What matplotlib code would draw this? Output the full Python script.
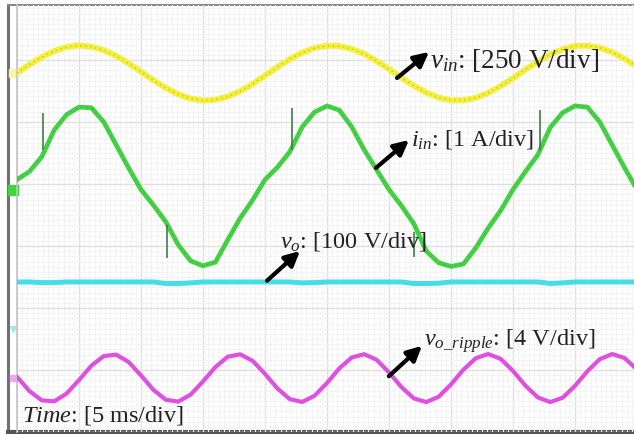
import matplotlib.pyplot as plt
import numpy as np
from matplotlib.ticker import MultipleLocator

plt.rcParams['font.family'] = 'Liberation Serif'
plt.rcParams['mathtext.fontset'] = 'custom'
plt.rcParams['mathtext.rm'] = 'Liberation Serif'
plt.rcParams['mathtext.it'] = 'Liberation Serif:italic'

# scope channels, one sample per ms
t_ms = np.arange(0, 51)

v_in = [0, 34, 64, 89, 105, 111, 106, 92, 69, 39,
        5, -29, -60, -86, -103, -111, -108, -95, -73, -44,
        -10, 24, 56, 82, 101, 110, 109, 97, 77, 48,
        16, -19, -51, -79, -99, -110, -110, -100, -80, -53,
        -21, 14, 46, 75, 96, 109, 110, 102, 84, 57, 26]

i_in = [0.10, 0.23, 0.47, 0.90, 1.15, 1.27, 1.26, 1.03, 0.66, 0.29,
        -0.06, -0.31, -0.58, -0.95, -1.21, -1.29, -1.23, -0.87, -0.52, -0.23,
        0.10, 0.30, 0.55, 0.95, 1.19, 1.29, 1.22, 0.95, 0.58, 0.26,
        -0.06, -0.32, -0.61, -1.05, -1.24, -1.30, -1.26, -1.00, -0.68, -0.40,
        -0.06, 0.23, 0.50, 0.94, 1.18, 1.29, 1.27, 1.03, 0.66, 0.29, -0.06]

v_o = [76, 76, 75, 75, 76, 76, 76, 76, 76, 76,
       76, 76, 73.5, 73.5, 74.5, 76, 76, 76, 76, 76,
       76, 76, 76, 74.5, 75, 76, 76, 76, 76, 76,
       76, 76, 73.5, 73.5, 74, 76, 76, 76, 76, 76,
       76, 76, 76, 73.5, 74.5, 76, 76, 76, 76, 76, 76]

v_ripple = [0.08, -0.84, -1.44, -1.50, -1.00, -0.13, 0.80, 1.42, 1.51, 1.04,
            0.17, -0.76, -1.40, -1.52, -1.07, -0.22, 0.71, 1.38, 1.53, 1.11,
            0.27, -0.67, -1.36, -1.54, -1.14, -0.32, 0.63, 1.33, 1.54, 1.18,
            0.36, -0.58, -1.31, -1.55, -1.21, -0.41, 0.54, 1.28, 1.55, 1.24,
            0.46, -0.49, -1.25, -1.55, -1.27, -0.50, 0.44, 1.22, 1.55, 1.29, 0.55]

# switching spikes on the input current
spike_t = [2.1, 12.1, 22.2, 32.0, 42.2]
spike_lo = [0.58, -0.63, 0.58, -0.75, 0.58]
spike_hi = [1.18, -1.16, 1.26, -1.15, 1.23]

# volts (amps) per division and ground level of each channel, in divisions
scale = {'vin': 250, 'iin': 1, 'vo': 100, 'rip': 4}
ground = {'vin': 5.79, 'iin': 3.97, 'vo': 1.66, 'rip': 0.87}
colors = {'vin': '#f4ef38', 'iin': '#45d145', 'vo': '#45dde8', 'rip': '#e050e0'}

fig = plt.figure(figsize=(6.34, 4.34), dpi=100)

# outer bezel
outer = fig.add_axes([8 / 634, 2 / 434, 640 / 634, 427 / 434])
outer.set_xticks([])
outer.set_yticks([])
outer.spines['right'].set_visible(False)
outer.spines['left'].set_linewidth(2.2)
outer.spines['left'].set_color('#707070')
outer.spines['top'].set_linewidth(1.5)
outer.spines['top'].set_color('#8a8a8a')
outer.spines['bottom'].set_linewidth(3)
outer.spines['bottom'].set_color('#555555')

ax = fig.add_axes([17 / 634, 2 / 434, 617 / 634, 427 / 434])
ax.set_xlim(0, 617 / 12.4)
ax.set_ylim(0, 427 / 62)
ax.patch.set_alpha(0)
for s in ['top', 'right', 'bottom']:
    ax.spines[s].set_visible(False)
ax.spines['left'].set_color('#c4c4c4')
ax.spines['left'].set_linewidth(1.2)

ax.xaxis.set_major_locator(MultipleLocator(5))
ax.xaxis.set_minor_locator(MultipleLocator(5 / 12))
ax.yaxis.set_major_locator(MultipleLocator(1))
ax.yaxis.set_minor_locator(MultipleLocator(1 / 12))
ax.grid(which='minor', color='#f3f3f3', lw=0.8)
ax.grid(which='major', color='#e0e0e0', lw=1.0)
ax.tick_params(which='both', length=0, labelbottom=False, labelleft=False)
ax.set_axisbelow(True)

# traces
y_vin = np.array(v_in) / scale['vin'] + ground['vin']
y_iin = np.array(i_in) / scale['iin'] + ground['iin']
y_vo = np.array(v_o) / scale['vo'] + ground['vo']
y_rip = np.array(v_ripple) / scale['rip'] + ground['rip']

ax.plot(t_ms, y_vin, color=colors['vin'], lw=4.2, solid_capstyle='round', zorder=3)
ax.plot(t_ms, y_vin, color='#8c8a40', lw=0.9, ls=(0, (1, 3)), alpha=0.55, zorder=3)
ax.plot(t_ms, y_iin, color=colors['iin'], lw=3.4, solid_capstyle='round',
        solid_joinstyle='round', zorder=3)
ax.plot(t_ms, y_iin, color='#2a9a2a', lw=0.8, ls=(0, (1, 4)), alpha=0.5, zorder=3)
ax.vlines(spike_t, np.array(spike_lo) + ground['iin'], np.array(spike_hi) + ground['iin'],
          color='#3d7f45', lw=1.2, zorder=3)
ax.plot(t_ms, y_vo, color=colors['vo'], lw=3.6, zorder=3)
ax.plot(t_ms, y_rip, color=colors['rip'], lw=3.0, solid_capstyle='round',
        solid_joinstyle='round', zorder=3)

# channel ground markers in the left strip
ax.plot(-0.36, ground['vin'], 's', ms=6, color='#f7f5a8', clip_on=False)
ax.plot(-0.36, ground['iin'] - 0.07, 's', ms=7, color='#3ed83e', clip_on=False)
ax.plot(-0.36, ground['vo'], 'v', ms=5, color='#9beaf0', clip_on=False)
ax.plot(-0.36, ground['rip'], 's', ms=4.5, color='#f3a6f0', clip_on=False)

# channel labels with arrows
arrow = dict(arrowstyle='-|>', color='black', lw=3, mutation_scale=22, shrinkA=0, shrinkB=0)
ax.annotate('', xy=(33.23, 6.13), xytext=(30.65, 5.71), arrowprops=arrow, zorder=5)
ax.annotate('', xy=(31.61, 4.71), xytext=(28.95, 4.26), arrowprops=arrow, zorder=5)
ax.annotate('', xy=(22.82, 2.92), xytext=(20.16, 2.44), arrowprops=arrow, zorder=5)
ax.annotate('', xy=(32.66, 1.39), xytext=(29.99, 0.90), arrowprops=arrow, zorder=5)

txt = dict(fontsize=17.5, color='#222222', va='center', ha='left', zorder=6)
ax.text(33.3, 6.0, r'$v_{in}$: [250 V/div]', **dict(txt, fontsize=19.5))
ax.text(31.8, 4.71, r'$i_{in}$: [1 A/div]', **txt)
ax.text(21.2, 3.08, r'$v_{o}$: [100 V/div]', **txt)
ax.text(32.8, 1.47, r'$v_{o\_ripple}$: [4 V/div]', **txt)
ax.text(0.4, 0.26, r'$Time$: [5 ms/div]', **txt)

fig.savefig('out.png', dpi=100)
